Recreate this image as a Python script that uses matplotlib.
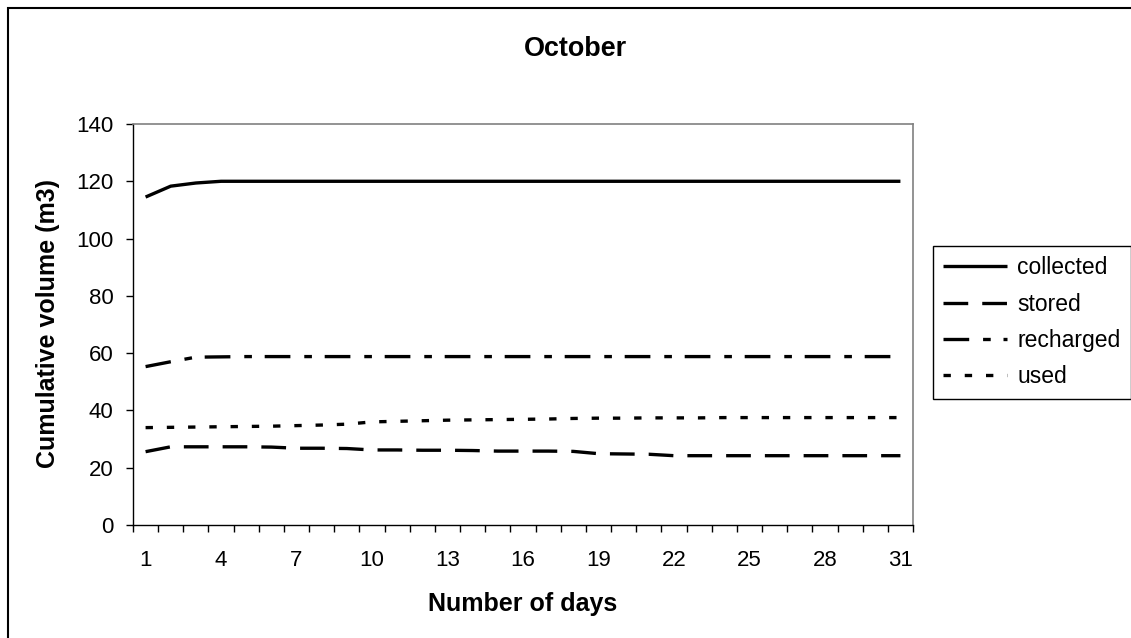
import matplotlib
matplotlib.use('Agg')
import matplotlib.pyplot as plt
from matplotlib.patches import Rectangle

plt.rcParams['font.family'] = ['Liberation Sans', 'DejaVu Sans']
plt.rcParams['lines.scale_dashes'] = False

# daily cumulative volumes (m3) for October
days = list(range(1, 32))
collected = [114.5, 118.3, 119.4, 120.0, 120.0, 120.0, 120.0, 120.0, 120.0, 120.0,
             120.0, 120.0, 120.0, 120.0, 120.0, 120.0, 120.0, 120.0, 120.0, 120.0,
             120.0, 120.0, 120.0, 120.0, 120.0, 120.0, 120.0, 120.0, 120.0, 120.0, 120.0]
stored = [25.6, 27.3, 27.3, 27.3, 27.3, 27.2, 26.8, 26.8, 26.7, 26.2,
          26.2, 26.1, 26.1, 26.0, 25.8, 25.8, 25.8, 25.7, 24.9, 24.8,
          24.7, 24.2, 24.2, 24.2, 24.2, 24.2, 24.2, 24.2, 24.2, 24.2, 24.2]
recharged = [55.3, 57.0, 58.6, 58.7, 58.8, 58.8, 58.8, 58.8, 58.8, 58.8,
             58.8, 58.8, 58.8, 58.8, 58.8, 58.8, 58.8, 58.8, 58.8, 58.8,
             58.8, 58.8, 58.8, 58.8, 58.8, 58.8, 58.8, 58.8, 58.8, 58.8, 58.8]
used = [34.0, 34.1, 34.2, 34.3, 34.4, 34.5, 34.7, 34.9, 35.2, 36.0,
        36.2, 36.4, 36.6, 36.7, 36.8, 36.9, 37.0, 37.2, 37.3, 37.3,
        37.4, 37.4, 37.4, 37.5, 37.5, 37.5, 37.5, 37.5, 37.5, 37.5, 37.5]
day_labels = [1, 4, 7, 10, 13, 16, 19, 22, 25, 28, 31]
y_ticks = [0, 20, 40, 60, 80, 100, 120, 140]

W, H = 1131, 638
fig = plt.figure(figsize=(W / 100, H / 100), dpi=100)
fig.patch.set_facecolor('white')

# chart frame (runs off the right and bottom edges)
fig.patches.append(Rectangle((8 / W, -0.1), 1.2, 1 - 8 / H + 0.1,
                             transform=fig.transFigure, fill=False,
                             edgecolor='black', linewidth=1.5))

ax = fig.add_axes([133 / W, 113 / H, 780 / W, 401 / H])

lw = 2.4
ax.plot(days, collected, color='black', lw=lw, solid_capstyle='butt', label='collected')
ax.plot(days, stored, color='black', lw=lw, linestyle=(0, (17.8, 10.1)), label='stored')
ax.plot(days, recharged, color='black', lw=lw, linestyle=(0, (18.5, 10, 5.5, 9.2)),
        label='recharged')
ax.plot(days, used, color='black', lw=lw, linestyle=(0, (5.3, 10)), label='used')

ax.set_xlim(0.5, 31.5)
ax.set_ylim(0, 140)

# category axis: ticks between days, labels every third day
ax.set_xticks([d + 0.5 for d in range(0, 32)])
ax.set_xticklabels([])
ax.set_xticks(day_labels, minor=True)
ax.set_xticklabels([str(d) for d in day_labels], minor=True)
ax.tick_params(axis='x', which='major', direction='out', length=5, width=1, color='black')
ax.tick_params(axis='x', which='minor', length=0, pad=18, labelsize=16)

ax.set_yticks(y_ticks)
ax.set_yticklabels([str(v) for v in y_ticks])
ax.tick_params(axis='y', direction='out', length=5, width=1, pad=9, labelsize=16)

for side in ['left', 'bottom']:
    ax.spines[side].set_color('black')
    ax.spines[side].set_linewidth(1)
for side in ['top', 'right']:
    ax.spines[side].set_color('#808080')
    ax.spines[side].set_linewidth(1.2)

fig.text(575 / W, 1 - 56 / H, 'October', ha='center', va='baseline',
         fontsize=19.4, fontweight='bold')
fig.text(523 / W, 1 - 611 / H, 'Number of days', ha='center', va='baseline',
         fontsize=18, fontweight='bold')
fig.text(48 / W, 1 - 324 / H, 'Cumulative volume (m3)', ha='center', va='center',
         rotation=90, fontsize=18, fontweight='bold')

leg = ax.legend(loc='upper left', bbox_to_anchor=(933 / W, 1 - 246 / H),
                bbox_transform=fig.transFigure, fontsize=16.5, frameon=True,
                fancybox=False, framealpha=1, edgecolor='black', borderpad=0.45,
                handlelength=2.77, handletextpad=0.45, labelspacing=0.58,
                borderaxespad=0)
leg.get_frame().set_linewidth(1)

fig.savefig('out.png', dpi=100)
